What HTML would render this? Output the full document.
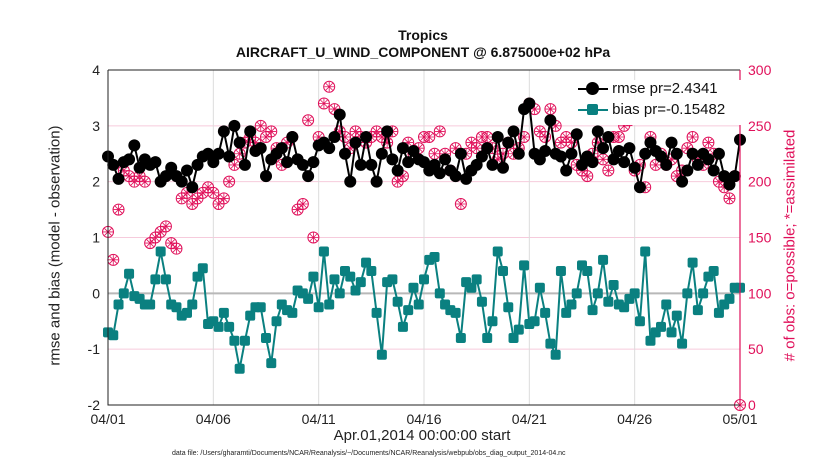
<!DOCTYPE html>
<html><head><meta charset="utf-8">
<style>
body{margin:0;background:#fff;font-family:"Liberation Sans",Arial,sans-serif;}
svg text{font-family:"Liberation Sans",Arial,sans-serif;}
</style></head>
<body>
<svg id="c" width="830" height="470" xmlns="http://www.w3.org/2000/svg"></svg>
<script>
const dayLabels=["04/01","04/06","04/11","04/16","04/21","04/26","05/01"];
const leftTicks=[-2,-1,0,1,2,3,4];
const rightTicks=[0,50,100,150,200,250,300];
const rmse=[2.45,2.3,2.05,2.35, 2.4,2.65,2.25,2.4, 2.3,2.35,2.0,2.1, 2.25,2.1,2.0,2.2, 1.9,2.3,2.45,2.5,
 2.35,2.5,2.9,2.45, 3.0,2.7,2.3,2.9, 2.55,2.6,2.1,2.4, 2.5,2.6,2.35,2.8, 2.4,2.3,2.1,2.35,
 2.65,2.7,2.6,2.8, 3.2,2.5,2.0,2.7, 2.3,2.8,2.3,2.0, 2.5,2.9,2.4,2.2, 2.6,2.35,2.55,2.4,
 2.35,2.2,2.3,2.15, 2.4,2.2,2.1,2.5, 2.05,2.2,2.3,2.45, 2.6,2.3,2.8,2.25, 2.7,2.9,2.5,3.3,
 3.4,2.5,2.4,2.55, 3.1,2.5,2.45,2.2, 2.5,2.85,2.3,2.45, 2.35,2.9,2.6,2.8, 2.4,2.55,2.35,2.6,
 2.25,1.9,2.5,2.7, 2.55,2.45,2.3,2.7, 2.5,2.0,2.2,2.5, 2.3,2.5,2.4,2.2, 2.5,2.1,1.95,2.1, 2.75];
const bias=[-0.7,-0.75,-0.2,0.0, 0.35,-0.05,-0.1,-0.2, -0.2,0.25,0.75,0.25, -0.2,-0.25,-0.4,-0.35, -0.2,0.3,0.45,-0.55,
 -0.5,-0.6,-0.35,-0.6, -0.85,-1.35,-0.85,-0.4, -0.25,-0.25,-0.8,-1.25, -0.5,-0.2,-0.3,-0.35, 0.05,0.0,-0.1,0.3,
 -0.25,0.75,-0.2,0.25, 0.0,0.4,0.3,0.05, 0.2,0.55,0.4,-0.35, -1.1,0.2,0.25,-0.15, -0.6,-0.3,0.1,-0.2,
 0.25,0.6,0.65,0.0, -0.2,-0.3,-0.35,-0.8, 0.2,0.1,0.25,-0.15, -0.8,-0.5,0.75,0.4, -0.25,-0.8,-0.65,0.5,
 -0.55,-0.5,0.1,-0.35, -0.9,-1.1,0.4,-0.35, -0.2,0.0,0.5,0.4, -0.3,0.0,0.6,-0.15, 0.15,-0.2,-0.25,-0.1,
 0.0,-0.5,0.75,-0.85, -0.7,-0.6,-0.2,-0.7, -0.4,-0.9,0.0,0.55, -0.3,0.0,0.3,0.4, -0.35,-0.2,-0.1,0.1, 0.1];
const obs=[155,130,175,210, 205,200,205,200, 145,150,155,160, 145,140,185,190, 180,185,190,195,
 190,180,185,200, 215,225,235,240, 235,250,240,245, 230,215,235,240, 175,180,255,150,
 240,270,285,265, 245,240,230,245, 240,235,240,245, 240,235,245,200, 205,235,225,230,
 240,240,225,245, 225,210,230,180, 225,235,230,240, 240,230,220,225, 235,225,230,240,
 270,265,245,240, 265,250,235,240, 235,215,210,205, 225,235,220,210, 240,240,250,255,
 210,215,195,240, 215,225,215,220, 205,210,230,240, 220,215,235,225, 200,195,185,205, 0];
const S="http://www.w3.org/2000/svg",svg=document.getElementById('c');
const X0=108,X1=740,Y0=70,Y1=405;
const xs=i=>X0+(X1-X0)*i/120;
const yl=v=>Y1-(v+2)/6*(Y1-Y0);
const yr=v=>Y1-v/300*(Y1-Y0);
function el(t,a,txt){const e=document.createElementNS(S,t);for(const k in a)e.setAttribute(k,a[k]);if(txt!==undefined)e.textContent=txt;svg.appendChild(e);return e;}
// grids
leftTicks.forEach(v=>{const g=el('line',{x1:X0,x2:X1,y1:yl(v),y2:yl(v),stroke:'#f6cbdc','stroke-width':1});
});
dayLabels.forEach((d,k)=>{const x=X0+(X1-X0)*k/6;const g=el('line',{x1:x,x2:x,y1:Y0,y2:Y1,stroke:'#dcdcdc','stroke-width':1});
});
const zl=el('line',{x1:X0,x2:X1,y1:yl(0),y2:yl(0),stroke:'#b8b8b8','stroke-width':2});

// obs
obs.forEach((v,i)=>{const x=xs(i),y=yr(v);const g=document.createElementNS(S,'g');

g.innerHTML=`<circle cx="${x}" cy="${y}" r="5.5" fill="none" stroke="#e0105a" stroke-width="1"/><path d="M${x-5} ${y}H${x+5}M${x} ${y-5}V${y+5}M${x-3.5} ${y-3.5}L${x+3.5} ${y+3.5}M${x-3.5} ${y+3.5}L${x+3.5} ${y-3.5}" stroke="#e0105a" stroke-width="0.8"/>`;svg.appendChild(g);});
// rmse
const rl=el('polyline',{points:rmse.map((v,i)=>xs(i)+','+yl(v)).join(' '),fill:'none',stroke:'#000','stroke-width':2});

rmse.forEach((v,i)=>{const c=el('circle',{cx:xs(i),cy:yl(v),r:6,fill:'#000'});
});
const bl=el('polyline',{points:bias.map((v,i)=>xs(i)+','+yl(v)).join(' '),fill:'none',stroke:'#0a8080','stroke-width':2});

bias.forEach((v,i)=>{const r=el('rect',{x:xs(i)-5,y:yl(v)-5,width:10,height:10,rx:2,fill:'#0a8080'});
});
// axes
const ax=el('path',{d:`M${X0} ${Y0}V${Y1}H${X1}M${X0} ${Y0}H${X1}`,stroke:'#222',fill:'none','stroke-width':1});

const ra=el('line',{x1:X1,x2:X1,y1:Y0,y2:Y1,stroke:'#e0105a','stroke-width':1.2});

leftTicks.forEach(v=>{const t=el('text',{x:X0-8,y:yl(v)+5,'text-anchor':'end','font-size':14,fill:'#222'},v);
});
rightTicks.forEach(v=>{const t=el('text',{x:X1+8,y:yr(v)+5,'font-size':14,fill:'#e0105a'},v);
});
dayLabels.forEach((d,k)=>{const t=el('text',{x:X0+(X1-X0)*k/6,y:Y1+19,'text-anchor':'middle','font-size':14,fill:'#222'},d);
});
</script>
<div style="position:absolute;left:0;top:0;width:830px;height:470px;pointer-events:none">
<div style="position:absolute;top:27px;width:830px;left:8px;text-align:center;font-weight:bold;font-size:14px;line-height:17px;color:#111">Tropics<br>AIRCRAFT_U_WIND_COMPONENT @ 6.875000e+02 hPa</div>
<div style="position:absolute;top:427px;left:322px;width:200px;text-align:center;font-size:15px;color:#222">Apr.01,2014 00:00:00 start</div>
<div style="position:absolute;left:55px;top:237px;width:300px;margin-left:-150px;text-align:center;font-size:15px;color:#222;transform:rotate(-90deg)">rmse and bias (model - observation)</div>
<div style="position:absolute;left:790px;top:237px;width:320px;margin-left:-160px;text-align:center;font-size:15px;color:#e0105a;transform:rotate(-90deg)"># of obs: o=possible; *=assimilated</div>
<div style="position:absolute;top:450px;left:172px;font-size:7px;color:#222">data file: /Users/gharamti/Documents/NCAR/Reanalysis/~/Documents/NCAR/Reanalysis/webpub/obs_diag_output_2014-04.nc</div>
<div style="position:absolute;left:576px;top:80px;width:165px;height:45px;background:#fff;font-size:15px;color:#111">
<div style="position:absolute;left:2px;top:0;white-space:nowrap"><span style="display:inline-block;width:30px;height:2px;background:#000;vertical-align:middle;position:relative"><span style="position:absolute;left:8px;top:-6px;width:13px;height:13px;border-radius:50%;background:#000"></span></span> rmse pr=2.4341</div>
<div style="position:absolute;left:2px;top:21px;white-space:nowrap"><span style="display:inline-block;width:30px;height:2px;background:#0a8080;vertical-align:middle;position:relative"><span style="position:absolute;left:9px;top:-5px;width:11px;height:11px;border-radius:2px;background:#0a8080"></span></span> bias pr=-0.15482</div>
</div>
</div>
</body></html>
